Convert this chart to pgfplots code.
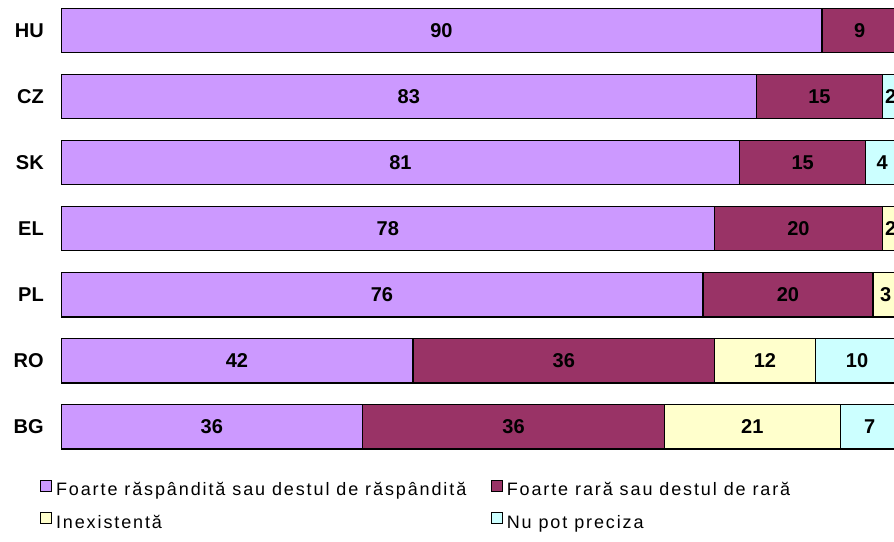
\documentclass[border=0pt]{standalone}
\usepackage{pgfplots}
\pgfplotsset{compat=1.18}
\usepackage{fontspec}
\setmainfont{Liberation Sans}
\newfontfamily\legfont[LetterSpace=10.5]{Liberation Sans}
\definecolor{Lila}{HTML}{CC99FF}
\definecolor{Visiniu}{HTML}{993366}
\definecolor{Galben}{HTML}{FFFFCC}
\definecolor{Turcoaz}{HTML}{CCFFFF}

\pgfplotsset{
 sq/.style={legend image code/.code={%
   \draw[##1,draw=black,line width=0.75pt] (0pt,0pt) rectangle (8.3pt,8.3pt);}},
}

\begin{document}
\begin{tikzpicture}
\path[use as bounding box] (0,0) rectangle (670.5pt,406.5pt);
\clip (0,0) rectangle (670.5pt,406.5pt);
\begin{axis}[
 at={(45.75pt,61.65pt)}, anchor=south west,
 scale only axis, width=628.5pt, height=346.8pt,
 xbar stacked, bar width=0.672,
 xmin=0, xmax=100, ymin=-0.5, ymax=6.5,
 axis x line=none, axis y line=left, y axis line style={draw=none},
 ytick={0,...,6}, yticklabels={BG,RO,PL,EL,SK,CZ,HU},
 major tick length=0pt, ytick style={draw=none},
 y tick label style={font=\fontsize{15}{18}\selectfont\bfseries, inner sep=0pt, xshift=-12.75pt},
 point meta=explicit symbolic,
 nodes near coords,
 every node near coord/.append style={font=\fontsize{15}{18}\selectfont\bfseries, text=black, anchor=center},
 every axis plot/.append style={draw=black, line width=1pt},
 legend columns=2, legend cell align=left,
 legend style={at={(axis description cs:-0.02506,-0.0428)}, anchor=north west,
   draw=none, fill=none, inner sep=0pt, outer sep=0pt, row sep=9.75pt, column sep=0pt,
   font=\legfont\fontsize{13.5}{15}\selectfont,
   nodes={inner sep=0pt, text height=9.3pt, text depth=2.7pt}},
]
% purple: foarte raspandita
\addplot[fill=Lila, sq] coordinates {(36,0)[36] (42,1)[42] (76.6,2)[76] (78,3)[78] (81,4)[81] (83,5)[83] (90.8,6)[90]};
\addlegendentry{\hspace*{3pt}\makebox[326pt][l]{Foarte răspândită sau destul de răspândită}}
% maroon: foarte rara
\addplot[fill=Visiniu, sq] coordinates {(36,0)[36] (36,1)[36] (20.3,2)[20] (20,3)[20] (15,4)[15] (15,5)[15] (9,6)[9]};
\addlegendentry{\hspace*{3pt}Foarte rară sau destul de rară}
% yellow: inexistenta
\addplot[fill=Galben, sq] coordinates {(21,0)[21] (12,1)[12] (3,2)[3] (2,3)[2] (0,4)[] (0,5)[] (0,6)[]};
\addlegendentry{\hspace*{3pt}\makebox[326pt][l]{Inexistentă}}
% cyan: nu pot preciza
\addplot[fill=Turcoaz, sq] coordinates {(7,0)[7] (10,1)[10] (0.1,2)[] (0,3)[] (4,4)[4] (2,5)[2] (0.2,6)[]};
\addlegendentry{\hspace*{3pt}Nu pot preciza}
\end{axis}
\end{tikzpicture}
\end{document}
